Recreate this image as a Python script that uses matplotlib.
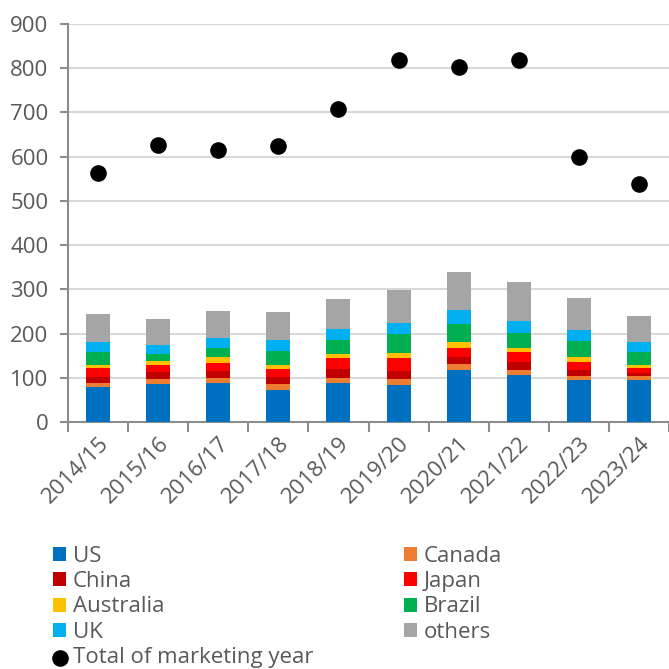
import matplotlib
matplotlib.use("Agg")
import matplotlib.pyplot as plt
import numpy as np

years = ["2014/15", "2015/16", "2016/17", "2017/18", "2018/19",
         "2019/20", "2020/21", "2021/22", "2022/23", "2023/24"]
us        = [79, 87, 89, 73, 89, 83, 117, 106, 96, 96]
canada    = [10, 11, 11, 13, 11, 15, 15, 12, 9, 9]
china     = [12, 15, 15, 15, 20, 17, 15, 17, 12, 6]
japan     = [20, 17, 19, 19, 24, 29, 20, 23, 18, 10]
australia = [9, 9, 13, 9, 10, 12, 13, 10, 11, 8]
brazil    = [28, 14, 20, 31, 31, 43, 41, 33, 37, 29]
uk        = [22, 22, 24, 25, 25, 26, 33, 27, 24, 24]
others    = [65, 59, 60, 63, 69, 74, 85, 89, 73, 58]
totals    = [563, 627, 615, 624, 708, 819, 803, 819, 600, 539]

series = [("US", us, "#0070C0"), ("Canada", canada, "#ED7D31"),
          ("China", china, "#C00000"), ("Japan", japan, "#FF0000"),
          ("Australia", australia, "#FFC000"), ("Brazil", brazil, "#00B050"),
          ("UK", uk, "#00B0F0"), ("others", others, "#A5A5A5")]

plt.rcParams['font.family'] = ['Open Sans', 'DejaVu Sans']
txt = "#595959"
fs = 16

fig = plt.figure(figsize=(6.69, 6.69), dpi=100)
ax = fig.add_axes([68/669, 1-422/669, 601/669, 398/669])

x = np.arange(len(years))
bottom = np.zeros(len(years))
handles = {}
for name, vals, col in series:
    b = ax.bar(x, vals, 0.4, bottom=bottom, color=col, label=name, zorder=3)
    handles[name] = b
    bottom += np.array(vals)
sc = ax.scatter(x, totals, s=120, color="black", zorder=4, label="Total of marketing year")
handles["Total"] = sc

ax.set_xlim(-0.5, len(years) - 0.5)
ax.set_ylim(0, 900)
ax.set_yticks(range(0, 901, 100))
ax.yaxis.grid(True, color="#D9D9D9", linewidth=1.5, zorder=0)
ax.set_axisbelow(True)
for s in ["top", "right"]:
    ax.spines[s].set_visible(False)
for s in ["left", "bottom"]:
    ax.spines[s].set_color("#8C8C8C")
    ax.spines[s].set_linewidth(1.5)
ax.tick_params(axis="y", colors="#8C8C8C", labelcolor=txt, labelsize=fs, length=6, width=1.5, pad=8)
ax.set_xticks(x)
ax.set_xticklabels(years, rotation=45, ha="right", rotation_mode="anchor", color=txt, fontsize=fs)
ax.tick_params(axis="x", length=0, pad=8)
ax.set_xticks(np.arange(-0.5, len(years), 1), minor=True)
ax.tick_params(axis="x", which="minor", length=7, width=1.5, color="#8C8C8C")

common = dict(loc="upper left", frameon=False, fontsize=fs,
              handlelength=0.6, handleheight=0.6, handletextpad=0.3,
              labelspacing=0.19, borderaxespad=0, borderpad=0)
col1 = ["US", "China", "Australia", "UK", "Total"]
lab1 = ["US", "China", "Australia", "UK", "Total of marketing year"]
col2 = ["Canada", "Japan", "Brazil", "others"]
leg1 = fig.legend([handles[o] for o in col1], lab1,
                  bbox_to_anchor=(53/669, 1-546/669), **common)
leg2 = fig.legend([handles[o] for o in col2], col2,
                  bbox_to_anchor=(404/669, 1-546/669), **common)
for lg in (leg1, leg2):
    for t in lg.get_texts():
        t.set_color(txt)

fig.savefig("out.png", dpi=100)
